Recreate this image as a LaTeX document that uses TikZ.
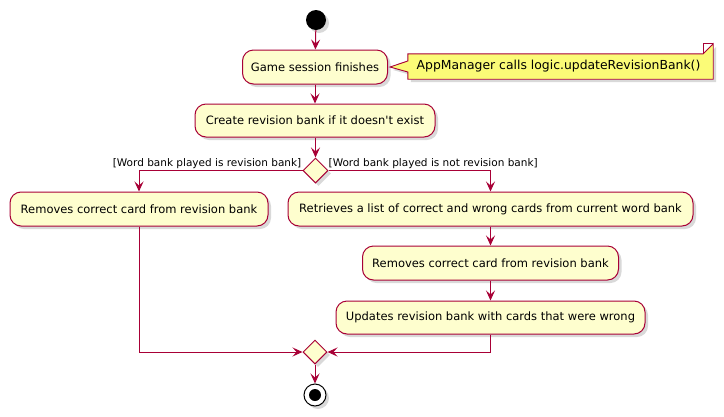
\documentclass[tikz,border=0pt]{standalone}
\usepackage{fontspec}
\setmainfont{DejaVu Sans}[Ligatures=TeXOff]
\usetikzlibrary{arrows.meta,shapes.geometric,shadows}
\definecolor{pfill}{HTML}{FEFECE}
\definecolor{pline}{HTML}{A80036}
\definecolor{nfill}{HTML}{FBFB77}
\begin{document}
\begin{tikzpicture}[x=1pt,y=-1pt,
  shd/.style={drop shadow={shadow xshift=3pt,shadow yshift=-3pt,fill=black,opacity=0.15}},
  act/.style={draw=pline,fill=pfill,line width=1pt,rounded corners=11pt,minimum height=34pt,inner sep=0pt,font=\fontsize{11.5}{13}\selectfont,shd},
  dec/.style={diamond,aspect=1,draw=pline,fill=pfill,line width=1pt,minimum width=25pt,minimum height=25pt,inner sep=0pt,shd},
  flow/.style={draw=pline,line width=1pt,-{Stealth[length=10pt,width=9pt,inset=4pt]}},
  guard/.style={font=\fontsize{10.5}{12}\selectfont,inner sep=0pt},
]
\useasboundingbox[fill=white] (0,0) rectangle (724,416);

\node[circle,fill=black,minimum size=20pt,inner sep=0pt,shd] (start) at (316,20) {};
\node[act,minimum width=145pt] (g1) at (315,67) {Game session finishes};
\node[minimum width=305pt,minimum height=25pt,inner sep=0pt] (note) at (560.5,66.5) {};
\draw[draw=pline,fill=nfill,line width=0.9pt,shd]
  (note.north west) -- ([xshift=-10pt]note.north east) -- ([yshift=10pt]note.north east)
  -- (note.south east) -- (note.south west) -- ([yshift=-5.5pt]note.west)
  -- ([xshift=2pt]g1.east) -- ([yshift=5.5pt]note.west) -- cycle;
\draw[draw=pline,line width=0.9pt] ([xshift=-10pt]note.north east) -- ([xshift=-10pt,yshift=10pt]note.north east) -- ([yshift=10pt]note.north east);
\node[font=\fontsize{12.4}{14}\selectfont] at ([xshift=-2pt]note.center) {AppManager calls logic.updateRevisionBank()};

\node[act,minimum width=240pt,minimum height=33pt] (c1) at (315,120.5) {Create revision bank if it doesn't exist};
\node[dec] (d1) at (315.5,170.5) {};
\node[act,minimum width=258pt] (l1) at (139,209) {Removes correct card from revision bank};
\node[act,minimum width=405pt] (r1) at (490.5,209) {Retrieves a list of correct and wrong cards from current word bank};
\node[act,minimum width=256pt] (r2) at (490.5,263) {Removes correct card from revision bank};
\node[act,minimum width=309pt,minimum height=33pt] (r3) at (490.5,317.5) {Updates revision bank with cards that were wrong};
\node[dec,minimum width=24pt,minimum height=24pt] (d2) at (315,352) {};
\node[circle,draw=black,fill=white,line width=1pt,minimum size=22pt,inner sep=0pt,shd] (stop) at (315,395) {};
\node[circle,fill=black,minimum size=12pt,inner sep=0pt] (stopin) at (stop.center) {};

\node[guard,anchor=east] (gl) at (301.5,163.5) {[Word bank played is revision bank]};
\node[guard,anchor=west] (gr) at (328.5,163.5) {[Word bank played is not revision bank]};

\draw[flow] (start) -- (g1);
\draw[flow] (g1) -- (c1);
\draw[flow] (c1.south -| d1.north) -- (d1.north);
\draw[flow] (d1.west) -| (l1.north);
\draw[flow] (d1.east) -| (r1.north);
\draw[flow] (r1) -- (r2);
\draw[flow] (r2) -- (r3);
\draw[flow] (l1.south) |- (d2.west);
\draw[flow] (r3.south) |- (d2.east);
\draw[flow] (d2) -- (stop);
\end{tikzpicture}
\end{document}
